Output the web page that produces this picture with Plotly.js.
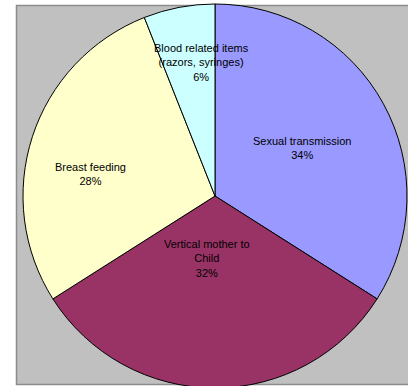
<!DOCTYPE html>
<html>
<head>
<meta charset="utf-8">
<script src="https://cdn.plot.ly/plotly-3.0.1.min.js"></script>
<style>
html,body{margin:0;padding:0;overflow:hidden;background:#fff;width:408px;height:386px;}
#chart{width:408px;height:392px;}
</style>
</head>
<body>
<div id="chart"></div>
<script>
// Data
var categories = ["Sexual transmission", "Vertical mother to Child", "Breast feeding", "Blood related items (razors, syringes)"];
var labelText = ["Sexual transmission", "Vertical mother to<br>Child", "Breast feeding", "Blood related items<br>(razors, syringes)"];
var values = [34, 32, 28, 6];
var colors = ["#9999FF", "#993366", "#FFFFCC", "#CCFFFF"];

// Layout constants (pixels)
var W = 408, H = 392;
var cx = 215, cy = 196, R = 192;
var labelRadial = [0.52, 0.33, 0.66, 0.70];   // fraction of radius for label placement
var labelAngleShift = [0, 7, -8, 5];           // degrees, label nudge from slice bisector

var total = values.reduce(function(a,b){return a+b;}, 0);
var annotations = [];
var cum = 0;
for (var i = 0; i < values.length; i++) {
  var mid = (cum + values[i] / 2) / total * 2 * Math.PI + labelAngleShift[i] * Math.PI / 180;
  cum += values[i];
  var px = cx + labelRadial[i] * R * Math.sin(mid);
  var py = cy - labelRadial[i] * R * Math.cos(mid);
  var pct = Math.round(values[i] / total * 100) + "%";
  annotations.push({
    xref: "paper", yref: "paper",
    x: px / W, y: (H - py) / H,
    xanchor: "center", yanchor: "middle",
    text: labelText[i] + "<br>" + pct,
    showarrow: false,
    align: "center",
    font: {family: "Liberation Sans, Arial, sans-serif", size: 11, color: "#000"}
  });
}

var trace = {
  type: "pie",
  labels: categories,
  values: values,
  sort: false,
  direction: "clockwise",
  rotation: 0,
  marker: {colors: colors, line: {color: "#000000", width: 1}},
  textinfo: "none",
  hoverinfo: "none",
  showlegend: false,
  domain: {x: [(cx - R) / W, Math.min(1, (cx + R) / W)], y: [(H - cy - R) / H, (H - cy + R) / H]}
};

var layout = {
  width: W, height: H,
  margin: {l: 0, r: 0, t: 0, b: 0},
  paper_bgcolor: "#ffffff",
  showlegend: false,
  shapes: [{
    type: "rect", xref: "paper", yref: "paper", layer: "below",
    x0: 16.5 / W, x1: 1.02, y0: (H - 384.5) / H, y1: (H - 5.5) / H,
    fillcolor: "#C0C0C0",
    line: {color: "#8C8C8C", width: 1.5}
  }],
  annotations: annotations
};

Plotly.newPlot("chart", [trace], layout, {displayModeBar: false, staticPlot: true});
</script>
</body>
</html>
